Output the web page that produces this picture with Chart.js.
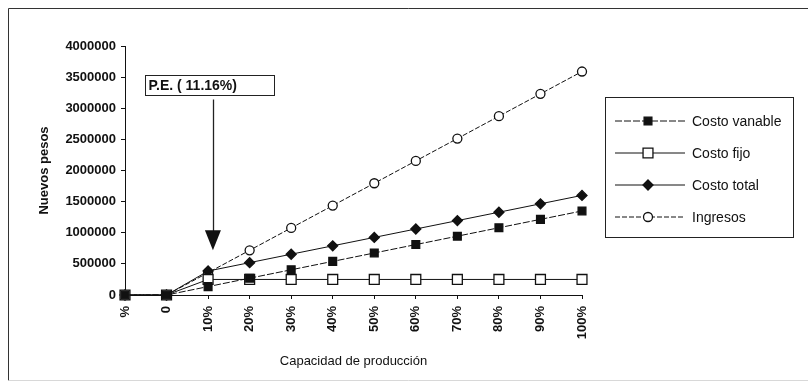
<!DOCTYPE html>
<html>
<head>
<meta charset="utf-8">
<script src="https://cdn.jsdelivr.net/npm/chart.js@4/dist/chart.umd.min.js"></script>
<style>
  html, body { margin: 0; padding: 0; background: #fff; }
  canvas { display: block; }
</style>
</head>
<body>
<canvas id="c" width="808" height="384"></canvas>
<script>
// Capacidad de producción (categorías del eje X)
const capacidad = ['%', '0', '10%', '20%', '30%', '40%', '50%', '60%', '70%', '80%', '90%', '100%'];

// Series en nuevos pesos
const costoVariable = [0, 0, 135000, 270000, 405000, 540000, 675000, 810000, 945000, 1080000, 1215000, 1350000];
const costoFijo     = [0, 0, 250000, 250000, 250000, 250000, 250000, 250000, 250000, 250000, 250000, 250000];
const costoTotal    = [0, 0, 385000, 520000, 655000, 790000, 925000, 1060000, 1195000, 1330000, 1465000, 1600000];
const ingresos      = [0, 0, 359000, 718000, 1077000, 1436000, 1795000, 2154000, 2513000, 2872000, 3231000, 3590000];

// Marcas del eje Y
const yTicks = [0, 500000, 1000000, 1500000, 2000000, 2500000, 3000000, 3500000, 4000000];

// Punto de equilibrio (% de capacidad)
const puntoEquilibrio = 11.16;

const FONT = "'Liberation Sans', Arial, Helvetica, sans-serif";
const INK = '#111';

const series = [
  { label: 'Costo vanable', data: costoVariable, pointStyle: 'rect',    radius: 5.5, fill: INK,    dash: [7, 2] },
  { label: 'Costo fijo',    data: costoFijo,     pointStyle: 'rect',    radius: 7,   fill: '#fff', dash: [] },
  { label: 'Costo total',   data: costoTotal,    pointStyle: 'rectRot', radius: 5,   fill: INK,    dash: [] },
  { label: 'Ingresos',      data: ingresos,      pointStyle: 'circle',  radius: 4.5, fill: '#fff', dash: [5, 2] }
];

function marker(ctx, style, r, x, y, fill) {
  ctx.save();
  ctx.beginPath();
  if (style === 'rect') {
    const s = r * Math.SQRT1_2;
    ctx.rect(x - s, y - s, 2 * s, 2 * s);
  } else if (style === 'rectRot') {
    ctx.moveTo(x, y - r); ctx.lineTo(x + r, y); ctx.lineTo(x, y + r); ctx.lineTo(x - r, y); ctx.closePath();
  } else {
    ctx.arc(x, y, r, 0, Math.PI * 2);
  }
  ctx.fillStyle = fill;
  ctx.strokeStyle = INK;
  ctx.lineWidth = 1.3;
  ctx.fill();
  ctx.stroke();
  ctx.restore();
}

// Marco, leyenda y anotación del punto de equilibrio
const extras = {
  id: 'extras',
  beforeDraw(chart) {
    const ctx = chart.ctx;
    ctx.save();
    ctx.fillStyle = '#fff';
    ctx.fillRect(0, 0, chart.width, chart.height);
    ctx.strokeStyle = '#333';
    ctx.lineWidth = 1;
    ctx.beginPath();
    ctx.moveTo(8.5, 380.5); ctx.lineTo(8.5, 8.5); ctx.lineTo(chart.width, 8.5);
    ctx.stroke();
    ctx.strokeStyle = '#d8d8d8';
    ctx.beginPath();
    ctx.moveTo(8.5, 380.5); ctx.lineTo(chart.width, 380.5);
    ctx.stroke();
    ctx.restore();
  },
  afterDraw(chart) {
    const ctx = chart.ctx;
    const xs = chart.scales.x, ys = chart.scales.y;
    const area = chart.chartArea;

    // Leyenda
    const lx = 605.5, ly = 97.5, lw = 188, lh = 140;
    ctx.save();
    ctx.strokeStyle = '#222';
    ctx.lineWidth = 1;
    ctx.strokeRect(lx, ly, lw, lh);
    ctx.font = '14px ' + FONT;
    ctx.textBaseline = 'middle';
    ctx.textAlign = 'left';
    series.forEach((s, i) => {
      const y = 121 + i * 32;
      ctx.save();
      ctx.strokeStyle = INK;
      ctx.lineWidth = 1;
      ctx.setLineDash(s.dash);
      ctx.beginPath();
      ctx.moveTo(615, y); ctx.lineTo(685, y);
      ctx.stroke();
      ctx.restore();
      marker(ctx, s.pointStyle, s.radius, 648, y, s.fill);
      ctx.fillStyle = INK;
      ctx.fillText(s.label, 692, y + 1);
    });
    ctx.restore();

    // Punto de equilibrio: recuadro y flecha
    const peX = xs.getPixelForValue(1 + puntoEquilibrio / 10);
    const tipY = ys.getPixelForValue(720000);
    const bx = area.left + 20.5, by = 75.5, bw = 129, bh = 20;
    ctx.save();
    ctx.strokeStyle = '#222';
    ctx.lineWidth = 1;
    ctx.strokeRect(bx, by, bw, bh);
    ctx.font = 'bold 14px ' + FONT;
    ctx.fillStyle = INK;
    ctx.textBaseline = 'middle';
    ctx.textAlign = 'left';
    ctx.fillText('P.E. ( ' + puntoEquilibrio.toFixed(2) + '%)', bx + 3, by + bh / 2 + 1);
    ctx.lineWidth = 1.3;
    ctx.beginPath();
    ctx.moveTo(Math.round(peX) + 0.5, by + bh + 4);
    ctx.lineTo(Math.round(peX) + 0.5, tipY - 18);
    ctx.stroke();
    ctx.beginPath();
    ctx.moveTo(peX - 8, tipY - 20);
    ctx.lineTo(peX + 8, tipY - 20);
    ctx.lineTo(peX, tipY);
    ctx.closePath();
    ctx.fill();
    ctx.restore();
  }
};

new Chart(document.getElementById('c'), {
  type: 'line',
  data: {
    labels: capacidad,
    datasets: series.map(s => ({
      label: s.label,
      data: s.data,
      borderColor: INK,
      borderWidth: 1,
      borderDash: s.dash,
      backgroundColor: s.fill,
      pointStyle: s.pointStyle,
      pointRadius: s.radius,
      pointBackgroundColor: s.fill,
      pointBorderColor: INK,
      pointBorderWidth: 1.3,
      tension: 0,
      fill: false,
      clip: false
    }))
  },
  options: {
    responsive: false,
    animation: false,
    devicePixelRatio: 1,
    layout: { padding: { top: 46, right: 226, left: 0, bottom: 0 } },
    plugins: { legend: { display: false }, tooltip: { enabled: false }, title: { display: false } },
    scales: {
      x: {
        type: 'category',
        offset: false,
        afterFit(scale) { scale.height = 89; },
        border: { color: INK, width: 1 },
        grid: { drawOnChartArea: false, drawTicks: true, tickLength: 4, color: INK },
        ticks: { color: INK, font: { family: FONT, size: 13, weight: 'bold' }, minRotation: 90, maxRotation: 90, autoSkip: false, padding: 7 },
        title: { display: true, text: 'Capacidad de producción', color: INK, font: { family: FONT, size: 13 }, padding: { top: 0, bottom: 15 } }
      },
      y: {
        min: 0,
        max: 4000000,
        afterFit(scale) { scale.width = 125; },
        afterBuildTicks(scale) { scale.ticks = yTicks.map(v => ({ value: v })); },
        border: { color: INK, width: 1 },
        grid: { drawOnChartArea: false, drawTicks: true, tickLength: 4, color: INK },
        ticks: { color: INK, font: { family: FONT, size: 13, weight: 'bold' }, padding: 5, callback: v => String(v) },
        title: { display: true, text: 'Nuevos pesos', color: INK, font: { family: FONT, size: 13, weight: 'bold' }, padding: { top: 37, bottom: 0 } }
      }
    }
  },
  plugins: [extras]
});
</script>
</body>
</html>
